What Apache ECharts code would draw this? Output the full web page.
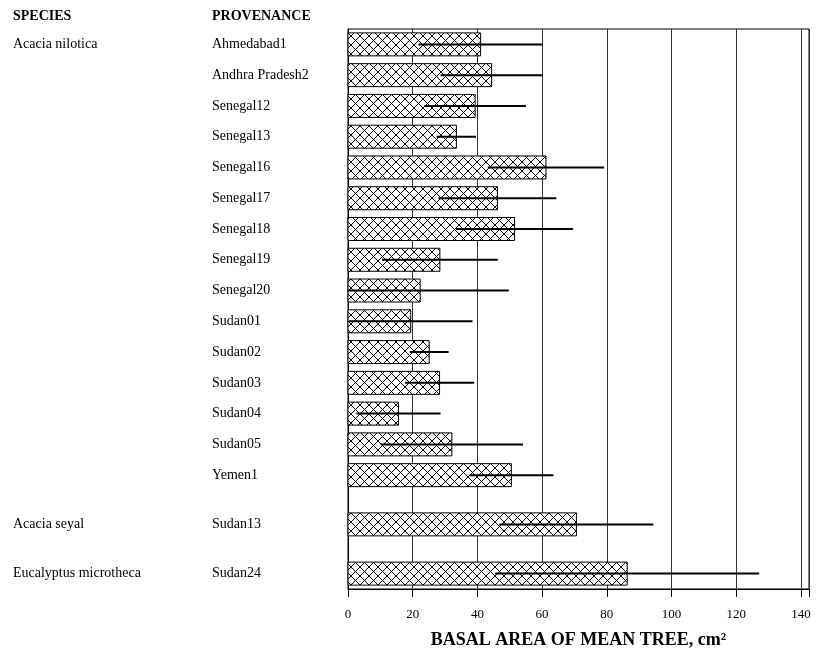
<!DOCTYPE html>
<html><head><meta charset="utf-8">
<script src="https://cdn.jsdelivr.net/npm/echarts@6/dist/echarts.min.js"></script>
<style>html,body{margin:0;padding:0;background:#fff}#c{width:827px;height:653px}</style>
</head><body><div id="c"></div>
<script>
const species = ['Acacia nilotica', 'Acacia seyal', 'Eucalyptus microtheca'];
const speciesRow = [0, 15, 16];
const provenances = ['Ahmedabad1','Andhra Pradesh2','Senegal12','Senegal13','Senegal16','Senegal17','Senegal18','Senegal19','Senegal20','Sudan01','Sudan02','Sudan03','Sudan04','Sudan05','Yemen1','Sudan13','Sudan24'];
// vertical slot of each row (gaps between species groups)
const rowSlot = [0,1,2,3,4,5,6,7,8,9,10,11,12,13,14,15.6,17.2];
const basalArea = [41.0,44.4,39.3,33.5,61.2,46.2,51.5,28.4,22.3,19.4,25.1,28.3,15.6,32.1,50.5,70.6,86.3];
const errorHalf = [19.2,15.8,15.7,6.1,18.0,18.2,18.1,17.9,27.4,19.1,6.0,10.7,13.0,22.0,13.0,23.8,40.8];
const xTicks = [0,20,40,60,80,100,120,140];

const pc = document.createElement('canvas');
const P = 9; pc.width = P; pc.height = P;
const g = pc.getContext('2d');
g.fillStyle = '#fff'; g.fillRect(0,0,P,P);
g.strokeStyle = '#000'; g.lineWidth = 1;
g.beginPath(); g.moveTo(0,0); g.lineTo(P,P); g.moveTo(0,P); g.lineTo(P,0); g.stroke();
const hatch = {image: pc, repeat: 'repeat'};

const barData = basalArea.map((v,i)=>[v, rowSlot[i], errorHalf[i]]);
const FONT = '"Liberation Serif","Times New Roman",serif';

const chart = echarts.init(document.getElementById('c'), null, {renderer:'canvas'});
chart.setOption({
  animation: false,
  grid: {left: 348, top: 29, right: 18, bottom: 64, show: true, borderColor: '#000', borderWidth: 1,
    backgroundColor: 'transparent', containLabel: false, outerBoundsMode: 'none'},
  xAxis: {
    type: 'value', min: 0, max: 142.5, interval: 20,
    axisLine: {show: true, onZero: false, lineStyle: {color: '#000'}},
    axisTick: {show: true, length: 8, lineStyle: {color: '#000'}},
    axisLabel: {color: '#000', fontFamily: FONT, fontSize: 13, margin: 19,
      formatter: v => xTicks.indexOf(v) >= 0 ? String(v) : ''},
    splitLine: {show: true, lineStyle: {color: '#333', width: 1}},
    name: 'BASAL AREA OF MEAN TREE, cm²', nameLocation: 'middle', nameGap: 42,
    nameTextStyle: {color: '#000', fontFamily: FONT, fontSize: 18, fontWeight: 'bold'}
  },
  yAxis: {
    type: 'value', inverse: true, min: -0.5, max: 17.7,
    axisLine: {show: true, onZero: false, lineStyle: {color: '#000'}},
    axisTick: {show: false}, axisLabel: {show: false}, splitLine: {show: false}
  },
  graphic: [
    {type:'text', left: 13, top: 9, style:{text:'SPECIES', font:'bold 14px '+FONT, fill:'#000'}},
    {type:'text', left: 212, top: 9, style:{text:'PROVENANCE', font:'bold 14px '+FONT, fill:'#000'}}
  ],
  series: [
    {
      type: 'custom', data: barData, clip: false, z: 5,
      renderItem: (params, api) => {
        const v = api.value(0), s = api.value(1), e = api.value(2);
        const p0 = api.coord([0, s]);
        const p1 = api.coord([v, s]);
        const h = 23;
        const lo = api.coord([Math.max(0, v - e), s]);
        const hi = api.coord([v + e, s]);
        return {type: 'group', children: [
          {type: 'rect', shape: {x: p0[0], y: p0[1] - h/2, width: p1[0] - p0[0], height: h},
            style: {fill: hatch, stroke: '#000', lineWidth: 1}},
          {type: 'line', shape: {x1: lo[0], y1: lo[1], x2: hi[0], y2: hi[1]},
            style: {stroke: '#000', lineWidth: 2}}
        ]};
      }
    },
    {
      type: 'custom', data: provenances.map((p,i)=>[0, rowSlot[i]]), clip: false, z: 6,
      renderItem: (params, api) => {
        const pt = api.coord([0, api.value(1)]);
        return {type: 'text', x: 212, y: pt[1],
          style: {text: provenances[params.dataIndex], font: '14px ' + FONT, fill: '#000', textVerticalAlign: 'middle'}};
      }
    },
    {
      type: 'custom', data: speciesRow.map(r=>[0, rowSlot[r]]), clip: false, z: 6,
      renderItem: (params, api) => {
        const pt = api.coord([0, api.value(1)]);
        return {type: 'text', x: 13, y: pt[1],
          style: {text: species[params.dataIndex], font: '14px ' + FONT, fill: '#000', textVerticalAlign: 'middle'}};
      }
    }
  ]
});
</script></body></html>
